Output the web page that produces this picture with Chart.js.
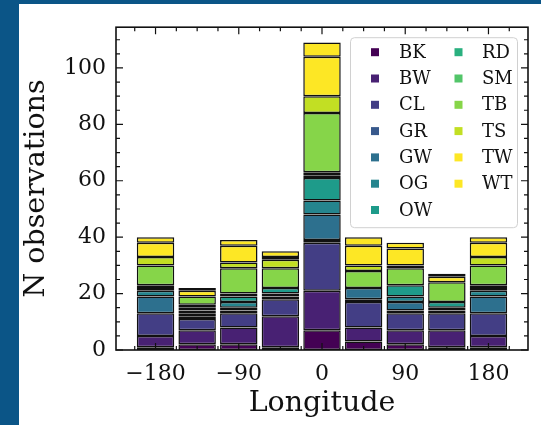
<!DOCTYPE html>
<html>
<head>
<meta charset="utf-8">
<script src="https://cdn.jsdelivr.net/npm/chart.js@4"></script>
<style>
  html, body { margin: 0; padding: 0; background: #0b5587; }
  #wrap { position: absolute; left: 19px; top: 4px; width: 522px; height: 421px; background: #fff; }
</style>
</head>
<body>
<div id="wrap"><canvas id="myChart" width="522" height="421"></canvas></div>
<script>
// bin centres (longitude) and observation counts per class
var bins = [-180, -135, -90, -45, 0, 45, 90, 135, 180];
var classes = ['BK', 'BW', 'CL', 'GR', 'GW', 'OG', 'OW', 'RD', 'SM', 'TB', 'TS', 'TW', 'WT'];
var BK = [1, 2, 2, 1, 7, 3, 2, 1, 1];
var BW = [4, 5, 6, 11, 14, 5, 5, 6, 4];
var CL = [8, 4, 5, 6, 17, 9, 6, 6, 8];
var GR = [0, 1, 1, 1, 1, 1, 1, 0, 0];
var GW = [6, 1, 1, 1, 9, 4, 3, 1, 6];
var OG = [2, 1, 2, 0, 5, 0, 2, 1, 2];
var OW = [1, 1, 2, 2, 8, 0, 4, 2, 1];
var RD = [1, 1, 1, 0, 1, 0, 0, 0, 1];
var SM = [0, 0, 0, 0, 1, 0, 0, 0, 0];
var TB = [7, 3, 9, 7, 21, 6, 6, 7, 7];
var TS = [3, 0, 2, 3, 6, 2, 1, 0, 3];
var TW = [5, 2, 6, 1, 14, 7, 6, 2, 5];
var WT = [2, 1, 2, 2, 5, 3, 2, 1, 2];
var series = [BK, BW, CL, GR, GW, OG, OW, RD, SM, TB, TS, TW, WT];
var xTicks = [-180, -90, 0, 90, 180];
var yTicks = [0, 20, 40, 60, 80, 100];

// viridis samples
var colors = ['#440154', '#482173', '#433e85', '#38598c', '#2d708e', '#25858e', '#1e9b8a',
              '#2ab07f', '#52c569', '#86d549', '#c2df23', '#fde725', '#fde725'];

var serif = "'DejaVu Serif', serif";
var ink = '#111';

var datasets = classes.map(function(name, i) {
  return {
    label: name,
    data: bins.map(function(b, j) { return {x: b, y: series[i][j]}; }),
    backgroundColor: colors[i],
    borderColor: ink,
    borderWidth: 1.5,
    borderSkipped: false,
    categoryPercentage: 1,
    barPercentage: 0.9
  };
});

// spines + inward ticks on all four sides
var framePlugin = {
  id: 'frame',
  afterDatasetsDraw: function(chart) {
    var ctx = chart.ctx, a = chart.chartArea;
    var xs = chart.scales.x, ys = chart.scales.y;
    ctx.save();
    ctx.strokeStyle = ink;
    ctx.lineWidth = 1.2;
    ctx.beginPath();
    var v, p;
    for (v = -225; v <= 225; v += 22.5) {
      if (v < xs.min || v > xs.max) continue;
      var len = (v % 90 === 0) ? 7 : 4;
      p = xs.getPixelForValue(v);
      ctx.moveTo(p, a.bottom); ctx.lineTo(p, a.bottom - len);
      ctx.moveTo(p, a.top); ctx.lineTo(p, a.top + len);
    }
    for (v = 0; v <= ys.max; v += 5) {
      var len2 = (v % 20 === 0) ? 7 : 4;
      p = ys.getPixelForValue(v);
      ctx.moveTo(a.left, p); ctx.lineTo(a.left + len2, p);
      ctx.moveTo(a.right, p); ctx.lineTo(a.right - len2, p);
    }
    ctx.stroke();
    ctx.lineWidth = 1.6;
    ctx.strokeRect(a.left, a.top, a.right - a.left, a.bottom - a.top);
    ctx.restore();
  }
};

// two column legend, matplotlib style
var legendPlugin = {
  id: 'legendBox',
  afterDraw: function(chart) {
    var ctx = chart.ctx, a = chart.chartArea;
    var w = 167, h = 190;
    var left = a.right - 11 - w, top = a.top + 10;
    ctx.save();
    ctx.fillStyle = 'rgba(255,255,255,0.8)';
    ctx.strokeStyle = '#d0d0d0';
    ctx.lineWidth = 1;
    ctx.beginPath();
    ctx.roundRect(left + 0.5, top + 0.5, w, h, 4);
    ctx.fill();
    ctx.stroke();
    ctx.font = '18px ' + serif;
    ctx.textBaseline = 'middle';
    ctx.textAlign = 'left';
    for (var i = 0; i < classes.length; i++) {
      var col = i < 7 ? 0 : 1;
      var row = i < 7 ? i : i - 7;
      var mx = left + (col ? 108.5 : 25);
      var my = top + 15 + row * 26.3;
      ctx.fillStyle = colors[i];
      ctx.fillRect(mx - 4, my - 4, 8, 8);
      ctx.fillStyle = ink;
      ctx.fillText(classes[i], left + (col ? 132 : 49), my + 1);
    }
    ctx.restore();
  }
};

var chart = new Chart(document.getElementById('myChart'), {
  type: 'bar',
  data: { datasets: datasets },
  plugins: [framePlugin, legendPlugin],
  options: {
    responsive: false,
    animation: false,
    devicePixelRatio: 1,
    layout: { padding: { left: 0, right: 13, top: 21, bottom: 0 } },
    plugins: { legend: { display: false }, tooltip: { enabled: false } },
    scales: {
      x: {
        type: 'linear',
        stacked: true,
        offset: false,
        min: -222.75,
        max: 222.75,
        afterBuildTicks: function(scale) {
          scale.ticks = xTicks.map(function(t) { return {value: t}; });
        },
        afterFit: function(scale) { scale.height = 75; },
        grid: { display: false, drawTicks: false },
        border: { display: false },
        ticks: {
          padding: 11,
          color: ink,
          font: { family: serif, size: 22 },
          callback: function(v) { return String(v).replace('-', '\u2212'); }
        },
        title: {
          display: true,
          text: 'Longitude',
          color: ink,
          font: { family: serif, size: 28.5 },
          padding: { top: 0, bottom: 4 }
        }
      },
      y: {
        stacked: true,
        min: 0,
        max: 114.45,
        afterBuildTicks: function(scale) {
          scale.ticks = yTicks.map(function(t) { return {value: t}; });
        },
        afterFit: function(scale) { scale.width = 97; },
        grid: { display: false, drawTicks: false },
        border: { display: false },
        ticks: {
          padding: 10,
          color: ink,
          font: { family: serif, size: 22 }
        },
        title: {
          display: true,
          text: 'N observations',
          color: ink,
          font: { family: serif, size: 28.5 },
          padding: { top: 0, bottom: 0 }
        }
      }
    }
  }
});
</script>
</body>
</html>
